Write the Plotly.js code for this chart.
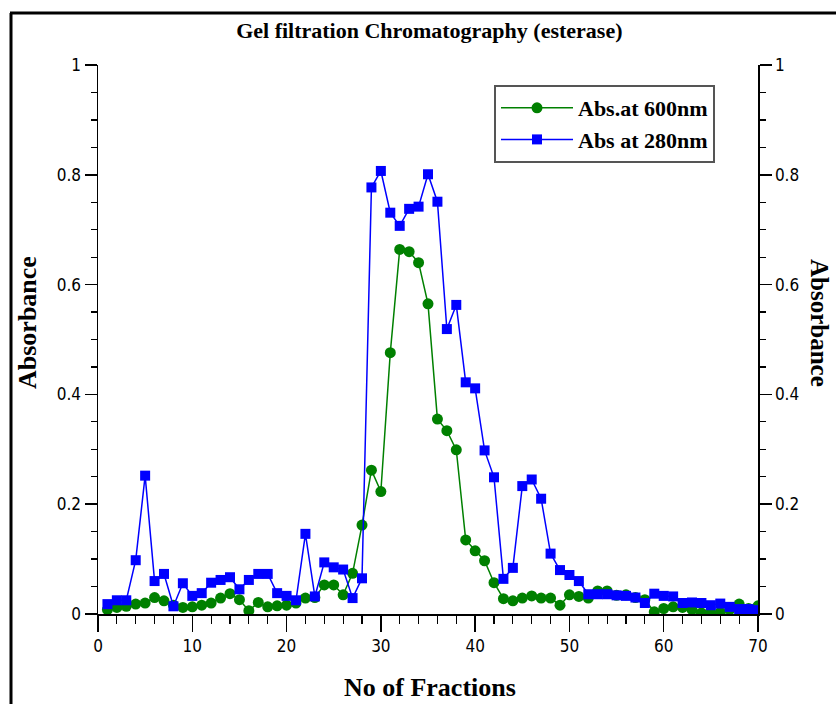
<!DOCTYPE html>
<html>
<head>
<meta charset="utf-8">
<script src="https://cdn.plot.ly/plotly-3.0.1.min.js"></script>
<style>
  html, body { margin: 0; padding: 0; background: #ffffff; }
  #chart { width: 836px; height: 704px; }
</style>
</head>
<body>
<div id="chart"></div>
<script>
// Fraction numbers
const fractions = [];
for (let i = 1; i <= 70; i++) fractions.push(i);

// Absorbance at 600 nm (green)
const abs600 = [
  0.008, 0.012, 0.014, 0.018, 0.020, 0.030, 0.024, 0.016, 0.012, 0.013,
  0.016, 0.020, 0.029, 0.037, 0.026, 0.006, 0.021, 0.013, 0.015, 0.016,
  0.020, 0.029, 0.030, 0.053, 0.053, 0.035, 0.074, 0.162, 0.262, 0.223,
  0.476, 0.664, 0.660, 0.640, 0.565, 0.355, 0.334, 0.299, 0.135, 0.115,
  0.097, 0.057, 0.028, 0.024, 0.029, 0.033, 0.029, 0.029, 0.016, 0.035,
  0.032, 0.029, 0.042, 0.042, 0.034, 0.035, 0.030, 0.026, 0.004, 0.010,
  0.013, 0.012, 0.008, 0.002, 0.002, 0.003, 0.008, 0.018, 0.010, 0.015
];

// Absorbance at 280 nm (blue)
const abs280 = [
  0.018, 0.025, 0.025, 0.098, 0.252, 0.060, 0.073, 0.014, 0.056, 0.033,
  0.038, 0.057, 0.062, 0.067, 0.045, 0.062, 0.073, 0.073, 0.038, 0.033,
  0.025, 0.146, 0.032, 0.094, 0.085, 0.081, 0.029, 0.065, 0.777, 0.807,
  0.731, 0.707, 0.738, 0.742, 0.801, 0.751, 0.519, 0.563, 0.422, 0.411,
  0.298, 0.249, 0.064, 0.084, 0.233, 0.245, 0.210, 0.110, 0.080, 0.071,
  0.060, 0.036, 0.036, 0.036, 0.034, 0.033, 0.030, 0.020, 0.037, 0.033,
  0.032, 0.020, 0.021, 0.020, 0.016, 0.019, 0.013, 0.009, 0.009, 0.007
];

const seriesNames = ["Abs.at 600nm", "Abs at 280nm"];
const chartTitle = "Gel filtration Chromatography (esterase)";
const xTitle = "No of Fractions";
const yTitle = "Absorbance";

const serif = "'Liberation Serif', 'Times New Roman', serif";
const narrow = "'Liberation Sans Narrow', 'DejaVu Sans Condensed', 'Liberation Sans', sans-serif";

const traces = [
  {
    x: fractions, y: abs600, name: seriesNames[0],
    type: "scatter", mode: "lines+markers",
    line: { color: "#008000", width: 1.5 },
    marker: { color: "#008000", symbol: "circle", size: 11 },
    xaxis: "x", yaxis: "y"
  },
  {
    x: fractions, y: abs280, name: seriesNames[1],
    type: "scatter", mode: "lines+markers",
    line: { color: "#0000ff", width: 1.5 },
    marker: { color: "#0000ff", symbol: "square", size: 10 },
    xaxis: "x", yaxis: "y2"
  }
];

// plot area: x 98..758, y 65..614 (px)
const L = 98, R = 758, T = 65, B = 614, W = 836, H = 704;
const px2x = p => (p - L) / (R - L);
const py2y = p => (B - p) / (B - T);

const yTickCommon = {
  range: [0, 1], tick0: 0, dtick: 0.2,
  ticks: "outside", ticklen: 12, tickwidth: 1.5, tickcolor: "#000",
  minor: { dtick: 0.05, ticks: "outside", ticklen: 6, tickwidth: 1.2, tickcolor: "#000" },
  showline: true, linecolor: "#000", linewidth: 1.5,
  showgrid: false, zeroline: false, fixedrange: true,
  tickfont: { family: narrow, size: 17, color: "#000" }
};

const layout = {
  width: W, height: H,
  margin: { l: L, r: W - R, t: T, b: H - B, pad: 0 },
  paper_bgcolor: "#ffffff", plot_bgcolor: "#ffffff",
  showlegend: true,
  title: {
    text: "<b>" + chartTitle + "</b>",
    font: { family: serif, size: 22, color: "#000" },
    x: 0.502, xref: "paper", xanchor: "center",
    y: 1 - 30 / H, yref: "container", yanchor: "middle"
  },
  xaxis: {
    range: [0, 70], tick0: 0, dtick: 10,
    ticks: "outside", ticklen: 16, tickwidth: 1.5, tickcolor: "#000",
    minor: { dtick: 2, ticks: "outside", ticklen: 8, tickwidth: 1.2, tickcolor: "#000" },
    showline: true, linecolor: "#000", linewidth: 1.5,
    showgrid: false, zeroline: false, fixedrange: true,
    tickfont: { family: narrow, size: 17, color: "#000" }
  },
  yaxis: Object.assign({}, yTickCommon, { side: "left" }),
  yaxis2: Object.assign({}, yTickCommon, { side: "right", overlaying: "y" }),
  legend: {
    x: px2x(494), y: py2y(85), xanchor: "left", yanchor: "top",
    bgcolor: "#ffffff", bordercolor: "#555555", borderwidth: 2,
    font: { family: serif, size: 22, color: "#000", weight: "bold" },
    itemwidth: 72
  },
  annotations: [
    {
      text: "<b>" + yTitle + "</b>", xref: "paper", yref: "paper",
      x: px2x(27), y: py2y(323), textangle: -90, showarrow: false,
      xanchor: "center", yanchor: "middle",
      font: { family: serif, size: 26, color: "#000" }
    },
    {
      text: "<b>" + yTitle + "</b>", xref: "paper", yref: "paper",
      x: px2x(820), y: py2y(323), textangle: 90, showarrow: false,
      xanchor: "center", yanchor: "middle",
      font: { family: serif, size: 25, color: "#000" }
    },
    {
      text: "<b>" + xTitle + "</b>", xref: "paper", yref: "paper",
      x: px2x(430), y: py2y(687), showarrow: false,
      xanchor: "center", yanchor: "middle",
      font: { family: serif, size: 26, color: "#000" }
    }
  ],
  shapes: [
    { type: "line", xref: "paper", yref: "paper",
      x0: px2x(11), x1: px2x(11), y0: py2y(760), y1: py2y(13),
      line: { color: "#000", width: 3 } },
    { type: "line", xref: "paper", yref: "paper",
      x0: px2x(10), x1: px2x(900), y0: py2y(13), y1: py2y(13),
      line: { color: "#000", width: 3 } }
  ]
};

Plotly.newPlot("chart", traces, layout, { displayModeBar: false, staticPlot: true });
</script>
</body>
</html>
